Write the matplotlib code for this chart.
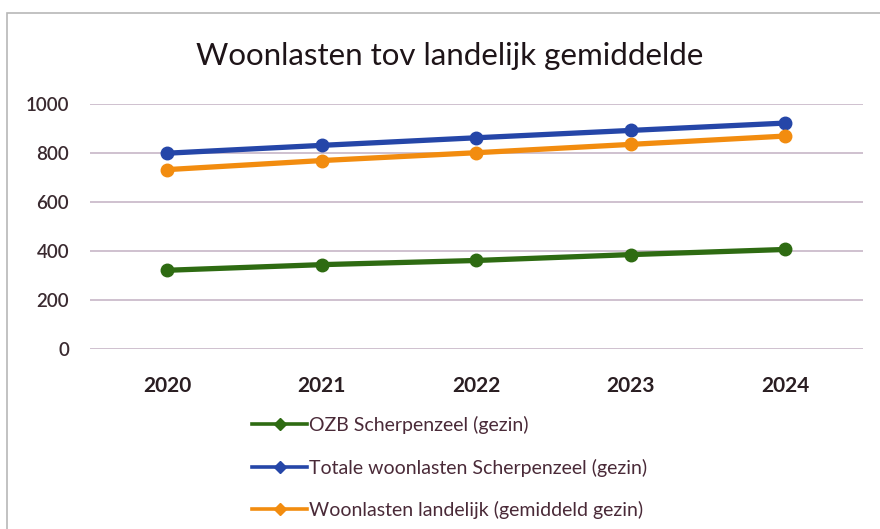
import matplotlib.pyplot as plt
from matplotlib.patches import Rectangle
from matplotlib.lines import Line2D

plt.rcParams['font.family'] = ['Lato', 'DejaVu Sans']

years = ['2020', '2021', '2022', '2023', '2024']
ozb = [322, 345, 362, 386, 407]
totaal = [800, 832, 863, 893, 923]
landelijk = [733, 770, 802, 836, 870]

labels = ['OZB Scherpenzeel (gezin)',
          'Totale woonlasten Scherpenzeel (gezin)',
          'Woonlasten landelijk (gemiddeld gezin)']
colors = ['#2e6b12', '#2546a8', '#f28c0f']

fig = plt.figure(figsize=(8.8, 5.29), dpi=100)
fig.patches.append(Rectangle((0.008, -0.01), 1.1, 0.985, transform=fig.transFigure,
                             fill=False, edgecolor='#b8b8b8', linewidth=1.2))

ax = fig.add_axes([0.1023, 0.340, 0.878, 0.463])
x = range(len(years))
for vals, lab, c in zip([ozb, totaal, landelijk], labels, colors):
    ax.plot(x, vals, color=c, linewidth=3.8, marker='o', markersize=9, label=lab)

ax.set_xlim(-0.5, 4.5)
ax.set_ylim(0, 1000)
ax.set_yticks([0, 200, 400, 600, 800, 1000])
ax.set_xticks(list(x))
ax.set_xticklabels(years, fontsize=15, fontweight='bold', color='#2a1e22')
ax.tick_params(axis='x', length=0, pad=19)
ax.tick_params(axis='y', length=0, pad=15, labelsize=13.5, labelcolor='#3a2a30')
for t in ax.get_yticklabels():
    t.set_fontweight('semibold')
ax.grid(axis='y', color='#cbbccb', linewidth=1.3)
ax.set_axisbelow(True)
for s in ax.spines.values():
    s.set_visible(False)

fig.text(0.511, 0.894, 'Woonlasten tov landelijk gemiddelde', ha='center', va='center',
         fontsize=22.5, color='#1e1418')

# legend below the plot, one entry per row
handles = [Line2D([], [], color=c, linewidth=2.6, marker='D', markersize=6) for c in colors]
fig.legend(handles, labels, loc='upper left', bbox_to_anchor=(0.278, 0.228), frameon=False,
           fontsize=14, labelspacing=1.25, handlelength=2.8, handletextpad=0.1,
           borderaxespad=0, labelcolor='#4a2a38')

fig.savefig('out.png', dpi=100)
